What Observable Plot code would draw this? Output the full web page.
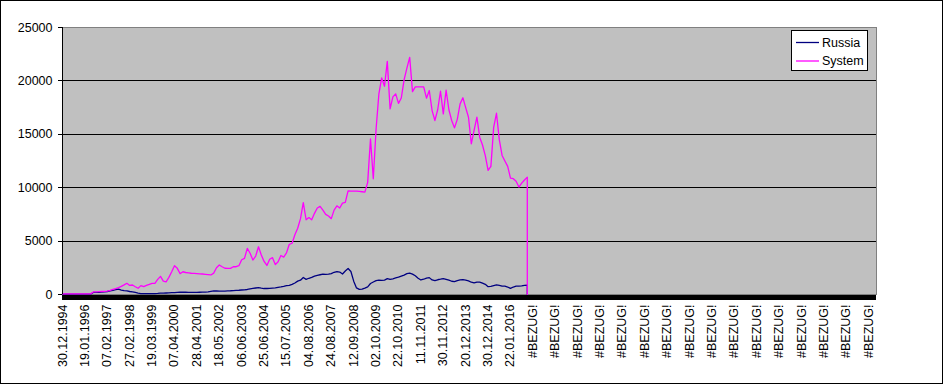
<!DOCTYPE html>
<html>
<head>
<meta charset="utf-8">
<script src="https://cdn.jsdelivr.net/npm/d3@7"></script>
<script src="https://cdn.jsdelivr.net/npm/@observablehq/plot@0.6"></script>
<style>
  html, body { margin: 0; padding: 0; background: #fff; overflow: hidden; }
  #wrap { position: relative; width: 945px; height: 384px; font-family: "Liberation Sans", Arial, sans-serif; }
  #border { position: absolute; left: 0; top: 0; width: 943px; height: 384px; box-sizing: border-box; border: 1px solid #000; pointer-events: none; }
  #legend { position: absolute; left: 791px; top: 30px; width: 77px; height: 41px; box-sizing: border-box; border: 1px solid #000; background: #fff; }
  #legend svg { display: block; }
</style>
</head>
<body>
<div id="wrap">
  <div id="chart"></div>
  <div id="legend"></div>
  <div id="border"></div>
</div>
<script>
// Category (tick) labels, one per label interval
const xLabels = [
  "30.12.1994","19.01.1996","07.02.1997","27.02.1998","19.03.1999","07.04.2000",
  "28.04.2001","18.05.2002","06.06.2003","25.06.2004","15.07.2005","04.08.2006",
  "24.08.2007","12.09.2008","02.10.2009","22.10.2010","11.11.2011","30.11.2012",
  "20.12.2013","30.12.2014","22.01.2016",
  "#BEZUG!","#BEZUG!","#BEZUG!","#BEZUG!","#BEZUG!","#BEZUG!","#BEZUG!","#BEZUG!",
  "#BEZUG!","#BEZUG!","#BEZUG!","#BEZUG!","#BEZUG!","#BEZUG!","#BEZUG!","#BEZUG!"
];
// extent of the category axis, in label intervals
const xExtent = 36.34;
// sampling interval of the series, in label intervals
const STEP = 0.125;

const yTicks = [0, 5000, 10000, 15000, 20000, 25000];

const seriesNames = ["Russia", "System"];
const seriesColors = ["#000080", "#ff00ff"];

const russia = [
  30,30,30,30,30,30,30,30,30,30,
  30,190,200,210,230,250,280,330,390,450,
  500,420,360,330,280,250,190,130,90,90,
  90,90,90,90,100,120,130,140,150,170,
  180,200,210,220,210,200,190,190,200,210,
  220,230,250,290,330,340,320,310,320,340,
  350,370,390,400,420,440,470,530,570,610,
  650,600,560,560,570,600,620,670,710,760,
  830,860,950,1080,1250,1340,1590,1420,1520,1600,
  1720,1800,1850,1900,1880,1900,1950,2080,2150,2100,
  1920,2200,2430,2150,1250,620,480,500,600,720,
  1030,1170,1300,1340,1320,1350,1480,1410,1470,1550,
  1620,1720,1820,1950,2000,1910,1750,1520,1360,1430,
  1540,1580,1360,1300,1380,1430,1490,1420,1340,1240,
  1200,1300,1360,1400,1340,1280,1150,1080,1150,1160,
  1060,950,730,760,830,900,850,780,780,700,
  570,700,780,780,800,850,870
];

const system = [
  50,50,50,50,50,50,50,50,50,50,
  60,240,250,260,280,300,310,380,480,560,
  650,760,900,1050,850,890,730,580,830,730,
  850,940,1050,1050,1420,1700,1250,1180,1600,2130,
  2700,2450,1950,2130,2060,2030,1990,1980,1960,1940,
  1920,1890,1860,1830,2000,2500,2760,2600,2460,2450,
  2450,2600,2600,2700,3250,3380,4320,3860,3230,3600,
  4470,3700,3100,2720,3300,3450,2800,3070,3650,3500,
  3900,4700,4800,5600,6200,7100,8600,7000,7200,7000,
  7600,8100,8250,7900,7500,7350,7100,7900,8300,8100,
  8560,8620,9700,9680,9680,9680,9650,9620,9590,10500,
  14580,10840,15500,18790,20280,19500,21830,17380,18500,18790,
  17900,18400,20090,21200,22210,19000,19440,19440,19440,19440,
  18380,19100,17220,16290,17300,19030,16910,19130,17300,16290,
  15600,16400,17850,18420,17500,16600,14110,15360,16600,14730,
  14000,13000,11620,12000,15670,16970,14500,13020,12500,12000,
  10900,10840,10600,10060,10430,10720,10990
];

// Build rows; after the last value the series falls to the #BEZUG! (zero) cells
function toRows(vals) {
  const rows = vals.map((v, i) => ({x: i * STEP, v}));
  rows.push({x: (vals.length - 1) * STEP, v: 0});
  return rows;
}
const seriesRows = [toRows(russia), toRows(system)];

const crisp = {shapeRendering: "crispEdges"};

const chart = Plot.plot({
  width: 945,
  height: 384,
  marginLeft: 62,
  marginRight: 69,
  marginTop: 27,
  marginBottom: 90,
  x: {domain: [0, xExtent], axis: null},
  y: {domain: [0, 25000], axis: null},
  style: {
    fontFamily: "'Liberation Sans', Arial, sans-serif",
    fontSize: "12.5px",
    background: "white",
    color: "black",
    overflow: "visible"
  },
  marks: [
    Plot.frame({fill: "#c0c0c0", stroke: "#808080", ...crisp}),
    Plot.ruleY(yTicks.filter(d => d > 0 && d < 25000), {stroke: "black", strokeWidth: 1, ...crisp}),
    ...seriesRows.map((rows, s) =>
      Plot.line(rows, {x: "x", y: "v", stroke: seriesColors[s], strokeWidth: 1.3})
    ),
    Plot.ruleX([0], {stroke: "black", ...crisp}),
    Plot.ruleY([0], {stroke: "black", strokeWidth: 5, dy: 3, ...crisp}),
    Plot.axisY({ticks: yTicks, tickSize: 4, tickPadding: 6, tickFormat: d => String(d), label: null, ...crisp}),
    Plot.axisX({
      ticks: d3.range(xLabels.length),
      tickFormat: i => xLabels[i],
      tickRotate: -90,
      tickSize: 0,
      tickPadding: 10,
      label: null
    })
  ]
});
document.getElementById("chart").appendChild(chart);

// Legend
const ns = "http://www.w3.org/2000/svg";
const lg = document.createElementNS(ns, "svg");
lg.setAttribute("width", 75);
lg.setAttribute("height", 39);
seriesNames.forEach((name, s) => {
  const yy = s === 0 ? 11.5 : 30;
  const ln = document.createElementNS(ns, "line");
  ln.setAttribute("x1", 4); ln.setAttribute("x2", 27);
  ln.setAttribute("y1", yy); ln.setAttribute("y2", yy);
  ln.setAttribute("stroke", seriesColors[s]);
  ln.setAttribute("stroke-width", 1.3);
  lg.appendChild(ln);
  const tx = document.createElementNS(ns, "text");
  tx.setAttribute("x", 30);
  tx.setAttribute("y", yy);
  tx.setAttribute("dominant-baseline", "central");
  tx.setAttribute("font-family", "'Liberation Sans', Arial, sans-serif");
  tx.setAttribute("font-size", "12.5px");
  tx.textContent = name;
  lg.appendChild(tx);
});
document.getElementById("legend").appendChild(lg);
</script>
</body>
</html>
